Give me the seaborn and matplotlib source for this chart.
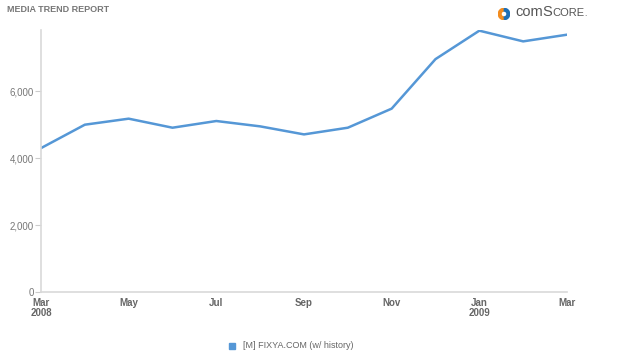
import matplotlib
matplotlib.use("Agg")
import matplotlib.pyplot as plt
import seaborn as sns
import pandas as pd
from matplotlib.patches import Wedge, Rectangle

months = ["Mar 2008", "Apr 2008", "May 2008", "Jun 2008", "Jul 2008", "Aug 2008",
          "Sep 2008", "Oct 2008", "Nov 2008", "Dec 2008", "Jan 2009", "Feb 2009", "Mar 2009"]
visitors = [4300, 5000, 5180, 4910, 5110, 4950, 4710, 4910, 5480, 6960, 7810, 7490, 7690]
series_name = "[M] FIXYA.COM (w/ history)"
x_tick_labels = ["Mar\n2008", "May", "Jul", "Sep", "Nov", "Jan\n2009", "Mar"]
y_ticks = [0, 2000, 4000, 6000]

sns.set_theme(style="white")
plt.rcParams["font.family"] = ["Liberation Sans", "DejaVu Sans"]

df = pd.DataFrame({"idx": range(len(months)), "month": months, "value": visitors})

fig = plt.figure(figsize=(6.23, 3.57), dpi=100)
ax = fig.add_axes([41/623, 1-292/357, (567-41)/623, (292-30)/357])
line_color = "#5597d6"
sns.lineplot(data=df, x="idx", y="value", ax=ax, color=line_color, linewidth=1.8, legend=False)

ax.set_xlim(0, len(months)-1)
ax.set_ylim(0, 7830)
ax.set_xticks(list(range(0, len(months), 2)))
ax.set_xticklabels(x_tick_labels, fontsize=7, color="#666666", fontweight="bold", linespacing=1.05)
ax.set_yticks(y_ticks)
ax.set_yticklabels([f"{v:,}" for v in y_ticks], fontsize=7, color="#777777")
ax.set_xlabel("")
ax.set_ylabel("")
for s in ["top", "right"]:
    ax.spines[s].set_visible(False)
for s in ["left", "bottom"]:
    ax.spines[s].set_color("#d9d9d9")
    ax.spines[s].set_linewidth(1.2)
ax.tick_params(axis="y", length=4, width=0.8, color="#cccccc", pad=1, left=True)
ax.tick_params(axis="x", length=0, pad=4)
ax.grid(False)

fig.text(7/623, 1-10/357, "MEDIA TREND REPORT", fontsize=6.5, fontweight="bold",
         color="#777777", va="center", ha="left")

# comScore logo
lax = fig.add_axes([498/623, 1-20/357, 12/623, 12/357])
lax.set_xlim(-1, 1); lax.set_ylim(-1, 1); lax.set_aspect("equal"); lax.axis("off")
lax.add_patch(Wedge((0, 0), 0.95, 95, 265, width=0.45, color="#f28c1f"))
lax.add_patch(Wedge((0, 0), 0.95, -85, 85, width=0.45, color="#1e6fb6"))

renderer = fig.canvas.get_renderer()
x_px = 515
parts = [("com", 10.5), ("S", 10.5), ("CORE", 8), (".", 6)]
for txt, fs in parts:
    t = fig.text(x_px/623, 1-16/357, txt, fontsize=fs, color="#555555", va="baseline", ha="left")
    bb = t.get_window_extent(renderer=renderer)
    x_px += bb.width

# legend
fig.patches.append(Rectangle((229/623, 1-349/357), 6/623, 6/357, transform=fig.transFigure,
                             color=line_color, figure=fig))
fig.text(243/623, 1-346/357, series_name, fontsize=6.5, color="#666666", va="center", ha="left")

fig.savefig("out.png", dpi=100, facecolor="white")
